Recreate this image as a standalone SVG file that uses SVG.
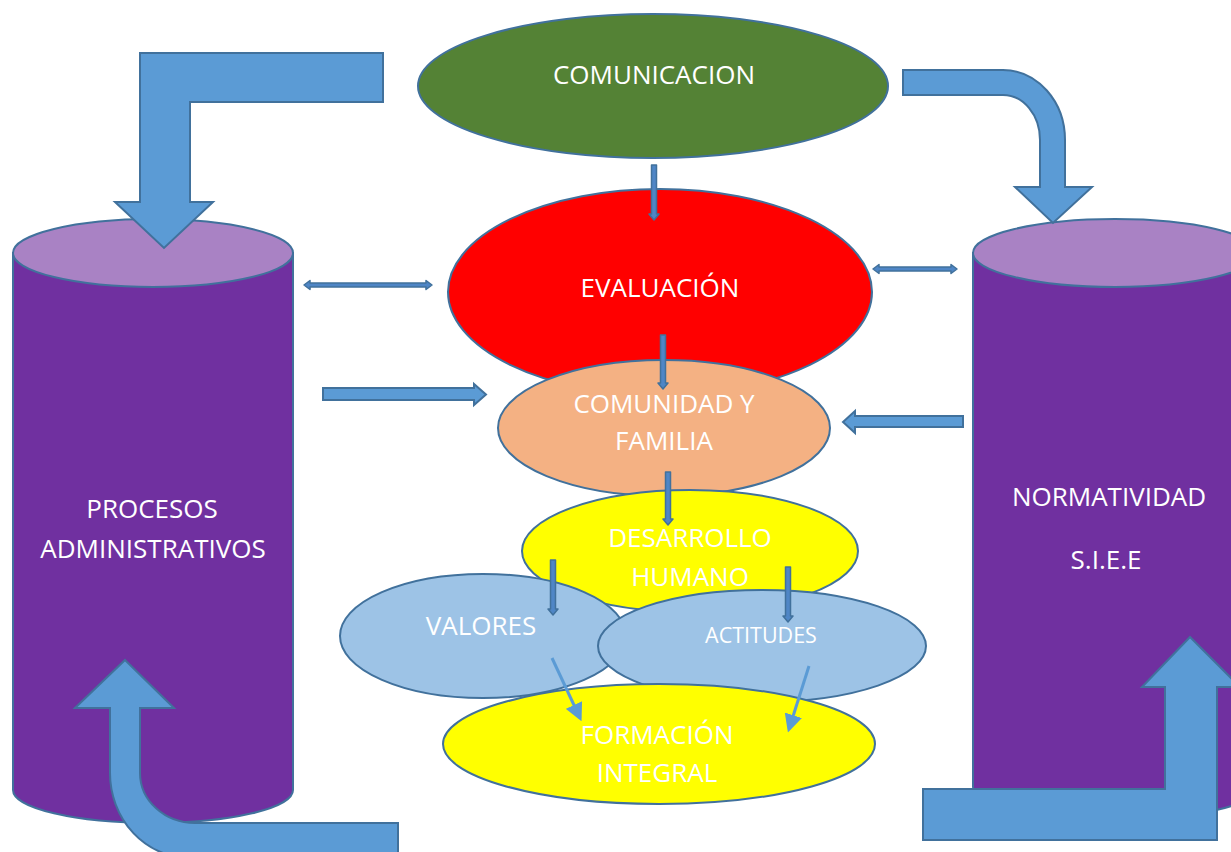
<svg xmlns="http://www.w3.org/2000/svg" width="1231" height="852" viewBox="0 0 1231 852">
  <defs>
    <style>
      .shape { stroke: #41719C; stroke-width: 2; }
      .label { font-family: "Open Sans", "Liberation Sans", sans-serif; fill: #FFFFFF; text-anchor: middle; font-size: 26px; }
      .big { fill: #5B9BD5; stroke: #41719C; stroke-width: 2; stroke-linejoin: miter; }
      .thin { fill: #4F86C6; stroke: #41719C; stroke-width: 1.5; stroke-linejoin: round; }
      .diag { stroke: #5B9BD5; stroke-width: 3; fill: none; }
    </style>
    <marker id="ah" viewBox="0 0 10 10" refX="8" refY="5" markerWidth="6" markerHeight="6" orient="auto" markerUnits="strokeWidth">
      <path d="M0,0 L10,5 L0,10 Z" fill="#5B9BD5"/>
    </marker>
  </defs>
  <rect width="1231" height="852" fill="#FFFFFF"/>

  <g id="procesos">
    <path class="shape" fill="#7030A0" d="M13,253 L13,790 A140,33 0 0 0 293,790 L293,253 Z"/>
    <ellipse class="shape" cx="153" cy="253" rx="140" ry="34" fill="#A982C4"/>
    <text class="label" x="152" y="518">PROCESOS</text>
    <text class="label" x="153" y="558">ADMINISTRATIVOS</text>
  </g>

  <g id="normatividad">
    <path class="shape" fill="#7030A0" d="M973,253 L973,787 A142,33 0 0 0 1257,787 L1257,253 Z"/>
    <ellipse class="shape" cx="1115" cy="253" rx="142" ry="34" fill="#A982C4"/>
    <text class="label" x="1109" y="506">NORMATIVIDAD</text>
    <text class="label" x="1106" y="569">S.I.E.E</text>
  </g>

  <g id="comunicacion">
    <ellipse class="shape" cx="653" cy="86" rx="235" ry="72" fill="#548235"/>
    <text class="label" x="654" y="84">COMUNICACION</text>
  </g>

  <g id="evaluacion">
    <ellipse class="shape" cx="660" cy="292" rx="212" ry="103" fill="#FF0000"/>
    <text class="label" x="660" y="297">EVALUACIÓN</text>
  </g>

  <g id="comunidad">
    <ellipse class="shape" cx="664" cy="428" rx="166" ry="68" fill="#F4B183"/>
    <text class="label" x="664" y="413">COMUNIDAD Y</text>
    <text class="label" x="664" y="450">FAMILIA</text>
  </g>

  <g id="desarrollo">
    <ellipse class="shape" cx="690" cy="551" rx="168" ry="61" fill="#FFFF00"/>
    <text class="label" x="690" y="547">DESARROLLO</text>
    <text class="label" x="690" y="586">HUMANO</text>
  </g>

  <g id="valores">
    <ellipse class="shape" cx="483" cy="636" rx="143" ry="62" fill="#9DC3E6"/>
    <text class="label" x="481" y="635">VALORES</text>
  </g>

  <g id="actitudes">
    <ellipse class="shape" cx="762" cy="646" rx="164" ry="56" fill="#9DC3E6"/>
    <text class="label" x="761" y="643" style="font-size:21.5px">ACTITUDES</text>
  </g>

  <g id="formacion">
    <ellipse class="shape" cx="659" cy="744" rx="216" ry="60" fill="#FFFF00"/>
    <text class="label" x="657" y="744">FORMACIÓN</text>
    <text class="label" x="657" y="782">INTEGRAL</text>
  </g>

  <g id="connectors">
    <polygon class="big" points="383,53 140,53 140,202 115,202 164,248 213,202 190,202 190,102 383,102"/>
    <path class="big" d="M903,70 L1003,70 A62,70 0 0 1 1065,140 L1065,187 L1092,187 L1053,223 L1015,187 L1040,187 L1040,140 A37,45 0 0 0 1003,95 L903,95 Z"/>
    <path class="big" d="M125,660 L174,708 L140,708 L140,773 A55,50 0 0 0 195,823 L398,823 L398,858 L190,858 A80,85 0 0 1 110,773 L110,708 L75,708 Z"/>
    <polygon class="big" points="923,789 1165,789 1165,687 1142,687 1190,637 1240,687 1217,687 1217,840 923,840"/>

    <polygon class="big" points="323,388 474,388 474,384 486,394.5 474,405 474,400 323,400"/>
    <polygon class="big" points="963,416 855,416 855,411 843,422 855,433 855,427 963,427"/>

    <polygon class="thin" points="304,285 310,280.5 310,283 426,283 426,280.5 432,285 426,289.5 426,287 310,287 310,289.5"/>
    <polygon class="thin" points="873,269 879,264.5 879,267 951,267 951,264.5 957,269 951,273.5 951,271 879,271 879,273.5"/>

    <polygon class="thin" points="651.5,165 656.5,165 656.5,214 659,214 654,220 649,214 651.5,214"/>
    <polygon class="thin" points="660.5,335 665.5,335 665.5,383 668,383 663,389 658,383 660.5,383"/>
    <polygon class="thin" points="665.5,472 670.5,472 670.5,519 673,519 668,525 663,519 665.5,519"/>
    <polygon class="thin" points="550.5,560 555.5,560 555.5,609 558,609 553,615 548,609 550.5,609"/>
    <polygon class="thin" points="785.5,567 790.5,567 790.5,616 793,616 788,622 783,616 785.5,616"/>

    <line class="diag" x1="552" y1="658" x2="580" y2="718" marker-end="url(#ah)"/>
    <line class="diag" x1="809" y1="666" x2="789" y2="729" marker-end="url(#ah)"/>
  </g>
</svg>
